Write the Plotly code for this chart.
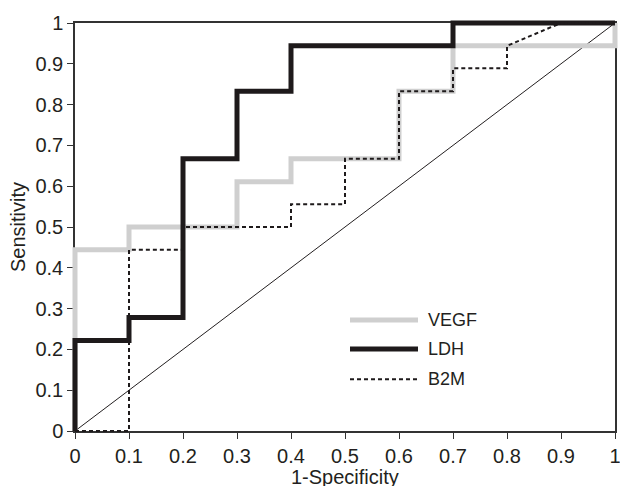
import plotly.graph_objects as go

# ROC step curves (1-Specificity, Sensitivity)
vegf_x = [0, 0, 0.1, 0.1, 0.3, 0.3, 0.4, 0.4, 0.6, 0.6, 0.7, 0.7, 1.0, 1.0]
vegf_y = [0, 0.444, 0.444, 0.5, 0.5, 0.611, 0.611, 0.667, 0.667, 0.833, 0.833, 0.944, 0.944, 1.0]

ldh_x = [0, 0, 0.1, 0.1, 0.2, 0.2, 0.3, 0.3, 0.4, 0.4, 0.7, 0.7, 1.0]
ldh_y = [0, 0.222, 0.222, 0.278, 0.278, 0.667, 0.667, 0.833, 0.833, 0.944, 0.944, 1.0, 1.0]

b2m_x = [0, 0.1, 0.1, 0.2, 0.2, 0.4, 0.4, 0.5, 0.5, 0.6, 0.6, 0.7, 0.7, 0.8, 0.8, 0.9, 1.0]
b2m_y = [0, 0, 0.444, 0.444, 0.5, 0.5, 0.556, 0.556, 0.667, 0.667, 0.833, 0.833, 0.889, 0.889, 0.944, 1.0, 1.0]

ref_x = [0, 1]
ref_y = [0, 1]

tick_vals = [0, 0.1, 0.2, 0.3, 0.4, 0.5, 0.6, 0.7, 0.8, 0.9, 1]
tick_text = ["0", "0.1", "0.2", "0.3", "0.4", "0.5", "0.6", "0.7", "0.8", "0.9", "1"]

series_names = ["VEGF", "LDH", "B2M"]
x_title = "1-Specificity"
y_title = "Sensitivity"

FONT = "Liberation Sans, Arial, sans-serif"
TXT = "#231f20"

W, H = 620, 486
ML, MR, MT, MB = 65, 0, 12, 45
PW, PH = W - ML - MR, H - MT - MB
# main plot pixel box (figure coords)
X0, X1 = 75, 615
Y1, Y0 = 23, 431
ux = (X1 - X0)
uy = (Y0 - Y1)

fig = go.Figure()

# reference diagonal on main axes
fig.add_trace(go.Scatter(x=ref_x, y=ref_y, mode="lines",
                         line=dict(color="#231f20", width=1), xaxis="x", yaxis="y",
                         showlegend=False, hoverinfo="skip"))

# data on second axes (larger clip area, identical pixel mapping)
fig.add_trace(go.Scatter(x=vegf_x, y=vegf_y, mode="lines", name=series_names[0],
                         line=dict(color="#cfcfcf", width=5), xaxis="x2", yaxis="y2",
                         showlegend=False))
fig.add_trace(go.Scatter(x=ldh_x, y=ldh_y, mode="lines", name=series_names[1],
                         line=dict(color="#1e1a1b", width=5), xaxis="x2", yaxis="y2",
                         showlegend=False))
fig.add_trace(go.Scatter(x=b2m_x, y=b2m_y, mode="lines", name=series_names[2],
                         line=dict(color="#1e1a1b", width=2, dash="4px,3px"), xaxis="x2", yaxis="y2",
                         showlegend=False))

axis_common = dict(tickfont=dict(family=FONT, size=20, color=TXT),
                   showgrid=False, zeroline=False, automargin=False,
                   ticklabeloverflow="allow",
                   tickvals=tick_vals, ticktext=tick_text,
                   ticks="outside", ticklen=6, tickwidth=1.2, tickcolor="#333",
                   showline=True, linecolor="#333", linewidth=1.5, mirror=True)

fig.update_layout(
    width=W, height=H,
    margin=dict(l=ML, r=MR, t=MT, b=MB, autoexpand=False),
    paper_bgcolor="white", plot_bgcolor="rgba(0,0,0,0)",
    font=dict(family=FONT, color=TXT),
    xaxis=dict(domain=[(X0 - ML) / PW, (X1 - ML) / PW], range=[0, 1],
               anchor="y", **axis_common),
    yaxis=dict(domain=[(H - MB - Y0) / PH, (H - MB - Y1) / PH], range=[0, 1],
               anchor="x", **axis_common),
    xaxis2=dict(domain=[0, 1], range=[-(X0 - ML) / ux, 1 + (W - MR - X1) / ux],
                visible=False, anchor="y2", fixedrange=True, automargin=False),
    yaxis2=dict(domain=[0, 1], range=[-(H - MB - Y0) / uy, 1 + (Y1 - MT) / uy],
                visible=False, anchor="x2", fixedrange=True, automargin=False),
    showlegend=False,
)

# axis titles
fig.add_annotation(x=((X0 + X1) / 2 - ML) / PW, y=(H - MB - 476.5) / PH, xref="paper", yref="paper",
                   text=x_title, showarrow=False, xanchor="center", yanchor="middle", borderpad=0,
                   font=dict(family=FONT, size=20, color=TXT))
fig.add_annotation(x=(18 - ML) / PW, y=(H - MB - (Y0 + Y1) / 2) / PH, xref="paper", yref="paper",
                   text=y_title, showarrow=False, textangle=-90, xanchor="center", yanchor="middle",
                   font=dict(family=FONT, size=20, color=TXT))

# manual legend
leg_colors = ["#cfcfcf", "#1e1a1b", "#1e1a1b"]
leg_widths = [5, 5, 2]
leg_dash = ["solid", "solid", "4px,3px"]
leg_y = [0.272, 0.201, 0.127]
lx0, lx1, ltx = (350 - X0) / ux, (418 - X0) / ux, (426 - X0) / ux
for name, c, w, d, yy in zip(series_names, leg_colors, leg_widths, leg_dash, leg_y):
    fig.add_shape(type="line", xref="x", yref="y", x0=lx0, x1=lx1, y0=yy, y1=yy,
                  line=dict(color=c, width=w, dash=d))
    fig.add_annotation(x=ltx, y=yy, xref="x", yref="y", text=name, showarrow=False,
                       xanchor="left", yanchor="middle",
                       font=dict(family=FONT, size=18, color=TXT))

fig.write_html(
    "out.html",
    config={"displayModeBar": False},
    post_script="document.body.style.margin='0';document.body.style.overflow='hidden';",
)
